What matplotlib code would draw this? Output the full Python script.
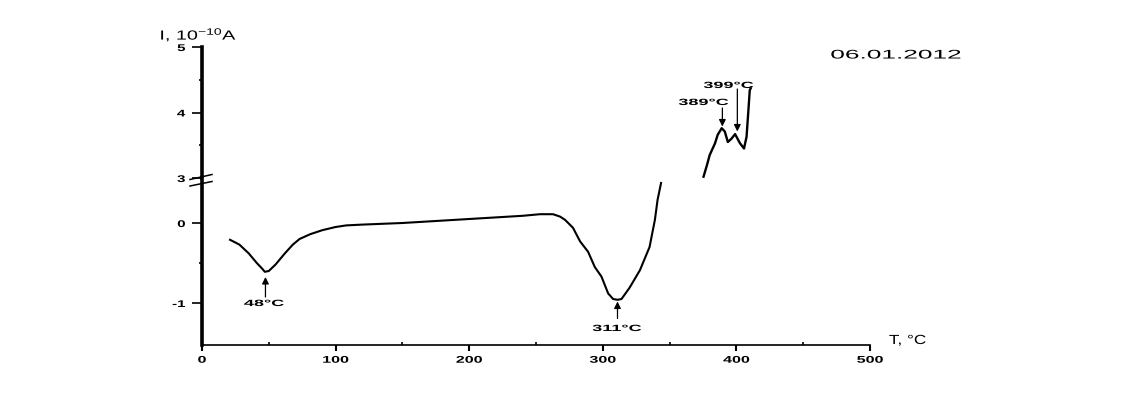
import matplotlib
matplotlib.use("Agg")
import matplotlib.pyplot as plt
from matplotlib.ticker import MultipleLocator
from matplotlib.patheffects import AbstractPathEffect
from matplotlib.transforms import Affine2D

plt.rcParams['font.family'] = ['Liberation Sans', 'DejaVu Sans']
plt.rcParams['mathtext.fontset'] = 'custom'
plt.rcParams['mathtext.rm'] = 'Liberation Sans'
plt.rcParams['mathtext.it'] = 'Liberation Sans'
plt.rcParams['axes.unicode_minus'] = False

# lower segment (current, 10^-10 A) vs temperature (°C)
t_low = [21, 28, 35, 41, 45, 47, 50, 55, 62, 68, 73, 81, 90, 100, 108, 120, 150, 180, 200, 220,
         240, 253, 262.7, 268, 271.7, 277.7, 283, 289, 294, 299, 304, 307.7, 311, 314, 320,
         327.8, 335, 339, 341, 343.6]
i_low = [-0.21, -0.27, -0.38, -0.5, -0.57, -0.61, -0.6, -0.52, -0.38, -0.27, -0.2, -0.14, -0.09,
         -0.05, -0.03, -0.02, 0.0, 0.03, 0.05, 0.07, 0.09, 0.11, 0.11, 0.08, 0.04, -0.06, -0.23,
         -0.36, -0.55, -0.67, -0.88, -0.95, -0.96, -0.95, -0.81, -0.59, -0.3, 0.04, 0.29, 0.5]

# upper segment (after the axis break)
t_up = [375.4, 378, 380, 384, 386, 389, 391.3, 393.6, 396.3, 399, 402.7, 405.7, 407.6, 409, 410, 410.7]
i_up = [3.02, 3.2, 3.35, 3.53, 3.66, 3.76, 3.71, 3.55, 3.6, 3.67, 3.53, 3.45, 3.63, 4.04, 4.34, 4.37]

x_ticks = [0, 100, 200, 300, 400, 500]
peaks = [48, 311, 389, 399]
peak_labels = ['48°C', '311°C', '389°C', '399°C']


class HStretch(AbstractPathEffect):
    """Widen glyphs horizontally (the reference uses a wide bitmap font)."""
    def __init__(self, sx, anchor='center'):
        super().__init__()
        self.sx = sx
        self.anchor = anchor

    def draw_path(self, renderer, gc, tpath, affine, rgbFace=None):
        ext = tpath.transformed(affine).get_extents()
        if self.anchor == 'right':
            cx = ext.x1
        elif self.anchor == 'left':
            cx = ext.x0
        else:
            cx = 0.5 * (ext.x0 + ext.x1)
        st = Affine2D().translate(-cx, 0).scale(self.sx, 1).translate(cx, 0)
        renderer.draw_path(gc, tpath, affine + st, rgbFace)


fig = plt.figure(figsize=(11.22, 4.13), dpi=100)
W, H = 1122, 413
x0, x1 = 202, 870


def rect(top, bottom):
    return [x0 / W, 1 - bottom / H, (x1 - x0) / W, (bottom - top) / H]


def fy(py):
    return 1 - py / H


ax_up = fig.add_axes(rect(47, 178))
ax_lo = fig.add_axes(rect(178, 345))

for ax in (ax_up, ax_lo):
    ax.set_xlim(0, 500)
    ax.spines['right'].set_visible(False)
    ax.spines['top'].set_visible(False)
    ax.spines['left'].set_linewidth(2.6)
    ax.tick_params(axis='y', which='major', direction='out', length=7.5, width=1.2,
                   labelsize=7, pad=4.5)
    ax.tick_params(axis='y', which='minor', direction='out', length=2.5, width=1.2)

ax_up.set_ylim(3, 5)
ax_up.spines['bottom'].set_visible(False)
ax_up.set_xticks([])
ax_up.yaxis.set_major_locator(MultipleLocator(1))
ax_up.yaxis.set_minor_locator(MultipleLocator(0.5))

ax_lo.set_ylim(-1.525, 0.5625)
ax_lo.set_yticks([-1, 0])
ax_lo.set_yticks([-0.5], minor=True)
ax_lo.spines['bottom'].set_linewidth(1.2)
ax_lo.set_xticks(x_ticks)
ax_lo.xaxis.set_minor_locator(MultipleLocator(50))
ax_lo.tick_params(axis='x', which='major', direction='out', length=4, width=1.5,
                  labelsize=7, pad=3)
ax_lo.tick_params(axis='x', which='minor', direction='in', length=2, width=1.2)

for ax in (ax_up, ax_lo):
    for lab in ax.get_yticklabels():
        lab.set_fontweight('bold')
        lab.set_path_effects([HStretch(1.55, 'right')])
for lab in ax_lo.get_xticklabels():
    lab.set_fontweight('bold')
    lab.set_path_effects([HStretch(1.65, 'center')])

ax_lo.plot(t_low, i_low, color='black', lw=1.5)
ax_up.plot(t_up, i_up, color='black', lw=1.7)

# break marks on the y axis
for ya, yb in ((179.5, 174.5), (186.0, 181.5)):
    fig.add_artist(plt.Line2D([190 / W, 212 / W], [fy(ya), fy(yb)], color='black', lw=1.1))


def px_to_data(ax, px, py):
    return ax.transData.inverted().transform((px, H - py))


def arrow_props():
    return dict(arrowstyle='-|>', color='black', lw=0.9, mutation_scale=10,
                shrinkA=0, shrinkB=0)


# 48 and 311 peaks: labels below, arrows pointing up
for ax, xv, tip_py, tail_py, tx, ty, lab in (
        (ax_lo, peaks[0] - 0.5, 277.0, 297.0, 264, 303.5, peak_labels[0]),
        (ax_lo, peaks[1], 301.5, 318.5, 617, 328.5, peak_labels[1])):
    _, tip = px_to_data(ax, 0, tip_py)
    _, tail = px_to_data(ax, 0, tail_py)
    ax.annotate('', xy=(xv, tip), xytext=(xv, tail), arrowprops=arrow_props())
    tdx, tdy = px_to_data(ax, tx, ty)
    t = ax.text(tdx, tdy, lab, ha='center', va='center', fontsize=6.5, fontweight='bold')
    t.set_path_effects([HStretch(2.0, 'center')])

# 389 and 399 peaks: labels above, arrows pointing down
for xv, tip_py, tail_py, tx, ty, lab in (
        (peaks[2] + 0.5, 126.5, 108.0, 703.5, 102.5, peak_labels[2]),
        (peaks[3] + 1.7, 131.5, 89.0, 728.5, 85.5, peak_labels[3])):
    _, tip = px_to_data(ax_up, 0, tip_py)
    _, tail = px_to_data(ax_up, 0, tail_py)
    ax_up.annotate('', xy=(xv, tip), xytext=(xv, tail), arrowprops=arrow_props())
    tdx, tdy = px_to_data(ax_up, tx, ty)
    t = ax_up.text(tdx, tdy, lab, ha='center', va='center', fontsize=6.5, fontweight='bold')
    t.set_path_effects([HStretch(2.0, 'center')])

t = fig.text(896 / W, fy(55.5), '06.01.2012', fontsize=9, ha='center', va='center')
t.set_path_effects([HStretch(2.1, 'center')])
t = fig.text(889 / W, fy(341), 'T, °C', fontsize=9.5, ha='left', va='center')
t.set_path_effects([HStretch(1.3, 'left')])
t = fig.text(160 / W, fy(35), r'I, 10$^{-10}$A', fontsize=9.5, ha='left', va='center')
t.set_path_effects([HStretch(1.5, 'left')])

fig.savefig('out.png', dpi=100)
